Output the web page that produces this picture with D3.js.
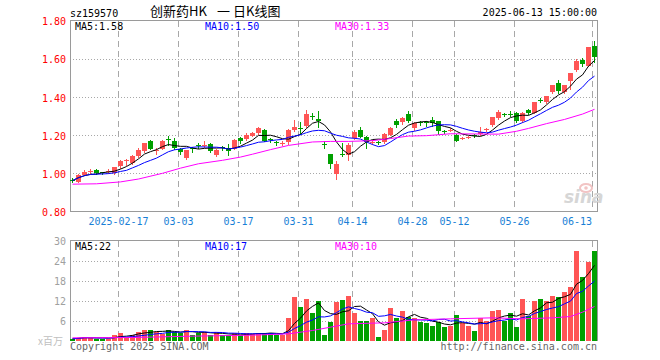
<!DOCTYPE html>
<html>
<head>
<meta charset="utf-8">
<script src="https://cdn.jsdelivr.net/npm/d3@7"></script>
<style>
  body { margin: 0; background: #fff; }
  svg { display: block; font-family: "DejaVu Sans Mono", monospace; }
</style>
</head>
<body>
<div id="chart"></div>
<script>
// trading days shown (2025)
const dates = [
  '02-05','02-06','02-07','02-10','02-11','02-12','02-13','02-14','02-17','02-18',
  '02-19','02-20','02-21','02-24','02-25','02-26','02-27','02-28','03-03','03-04',
  '03-05','03-06','03-07','03-10','03-11','03-12','03-13','03-14','03-17','03-18',
  '03-19','03-20','03-21','03-24','03-25','03-26','03-27','03-28','03-31','04-01',
  '04-02','04-03','04-07','04-08','04-09','04-10','04-11','04-14','04-15','04-16',
  '04-17','04-18','04-21','04-22','04-23','04-24','04-25','04-28','04-29','04-30',
  '05-06','05-07','05-08','05-09','05-12','05-13','05-14','05-15','05-16','05-19',
  '05-20','05-21','05-22','05-23','05-26','05-27','05-28','05-29','05-30','06-03',
  '06-04','06-05','06-06','06-09','06-10','06-11','06-12','06-13'
];

const openPx = [
  0.965,0.957,0.992,1.010,1.018,1.006,1.005,1.001,1.040,1.063,
  1.055,1.088,1.113,1.171,1.113,1.127,1.178,1.168,1.127,1.080,
  1.131,1.148,1.146,1.155,1.095,1.137,1.130,1.128,1.183,1.180,
  1.197,1.210,1.229,1.177,1.162,1.158,1.160,1.224,1.235,1.250,
  1.302,1.282,1.152,1.100,0.998,1.102,1.097,1.185,1.229,1.190,
  1.160,1.163,1.162,1.203,1.272,1.264,1.313,1.238,1.267,1.266,
  1.278,1.272,1.220,1.225,1.203,1.183,1.188,1.202,1.208,1.226,
  1.255,1.290,1.308,1.310,1.317,1.273,1.330,1.317,1.385,1.373,
  1.422,1.471,1.425,1.483,1.540,1.594,1.562,1.665
];
const highPx = [
  0.975,0.995,1.015,1.025,1.022,1.008,1.020,1.035,1.071,1.076,
  1.095,1.130,1.160,1.175,1.130,1.175,1.197,1.185,1.135,1.122,
  1.140,1.160,1.167,1.160,1.125,1.145,1.155,1.180,1.190,1.210,
  1.215,1.245,1.232,1.185,1.170,1.170,1.230,1.280,1.270,1.334,
  1.315,1.325,1.170,1.100,1.067,1.159,1.160,1.225,1.240,1.195,
  1.175,1.170,1.210,1.240,1.285,1.295,1.325,1.268,1.275,1.275,
  1.295,1.275,1.228,1.235,1.205,1.190,1.195,1.205,1.240,1.235,
  1.296,1.330,1.315,1.325,1.320,1.320,1.335,1.375,1.395,1.405,
  1.460,1.490,1.462,1.527,1.600,1.605,1.660,1.694
];
const lowPx = [
  0.952,0.952,0.990,1.000,0.998,0.998,1.000,0.998,1.029,1.045,
  1.050,1.085,1.110,1.128,1.100,1.125,1.150,1.125,1.100,1.075,
  1.110,1.130,1.140,1.110,1.090,1.120,1.095,1.125,1.160,1.175,
  1.195,1.205,1.170,1.165,1.150,1.150,1.155,1.220,1.205,1.245,
  1.285,1.245,1.130,1.028,0.971,1.088,1.070,1.180,1.190,1.130,
  1.155,1.155,1.160,1.200,1.240,1.260,1.270,1.225,1.255,1.250,
  1.250,1.205,1.210,1.220,1.170,1.180,1.183,1.190,1.200,1.220,
  1.250,1.285,1.300,1.300,1.270,1.270,1.310,1.315,1.375,1.370,
  1.420,1.420,1.420,1.440,1.538,1.560,1.560,1.585
];
const closePx = [
  0.962,0.992,1.009,1.014,1.001,1.001,1.010,1.031,1.067,1.068,
  1.092,1.120,1.157,1.130,1.120,1.171,1.175,1.130,1.110,1.120,
  1.128,1.146,1.149,1.118,1.120,1.133,1.115,1.176,1.166,1.200,
  1.212,1.238,1.173,1.174,1.160,1.161,1.225,1.241,1.232,1.313,
  1.300,1.271,1.150,1.050,1.050,1.100,1.150,1.215,1.194,1.162,
  1.163,1.161,1.206,1.238,1.250,1.287,1.278,1.264,1.265,1.264,
  1.260,1.220,1.218,1.228,1.173,1.186,1.191,1.197,1.218,1.230,
  1.296,1.320,1.304,1.308,1.273,1.317,1.313,1.373,1.383,1.404,
  1.460,1.430,1.460,1.527,1.588,1.571,1.659,1.606
];
// volume, millions of shares
const volume = [
  0.5,0.8,1.2,0.8,0.6,0.6,0.5,1.8,2.4,1.2,
  1.8,2.7,3.2,3.3,2.5,2.0,3.3,2.5,2.3,3.3,
  1.8,2.3,2.7,1.5,2.7,1.5,1.5,2.3,1.5,2.3,
  2.0,2.3,2.3,2.3,1.8,1.5,6.8,13.2,10.2,12.6,
  8.4,12.0,1.8,5.5,11.5,12.3,13.5,8.2,6.0,5.8,
  6.7,1.2,3.3,9.7,6.8,8.8,7.0,6.8,5.5,5.2,
  4.5,5.5,4.0,4.3,7.8,5.2,4.3,3.0,6.8,5.8,
  9.0,9.3,5.8,8.2,4.2,12.6,7.5,12.0,12.6,11.8,
  13.5,13.2,14.5,16.2,27.0,19.2,23.5,26.8
];

// 30-day averages (their window reaches before the first day shown)
const ma30Day = [0, 4, 8, 11, 15, 18, 21, 25, 28, 30, 33, 36, 40, 43, 46, 50, 53, 56, 59, 63, 67, 71, 74, 76, 79, 82, 85, 87];
const ma30Price = [0.943, 0.945, 0.955, 0.970, 1.000, 1.027, 1.050, 1.068, 1.085, 1.100, 1.124, 1.146, 1.164, 1.167, 1.167, 1.171, 1.182, 1.195, 1.197, 1.207, 1.206, 1.205, 1.220, 1.235, 1.260, 1.282, 1.310, 1.335];
const vma30Day = [0, 10, 20, 30, 36, 40, 43, 46, 52, 57, 63, 70, 75, 80, 83, 85, 87];
const vma30Vol = [0.8, 0.9, 1.3, 1.6, 2.0, 3.0, 4.0, 5.0, 5.3, 6.2, 6.5, 6.8, 6.5, 6.8, 7.2, 8.5, 10.2];

const priceTicks = [0.8, 1.0, 1.2, 1.4, 1.6, 1.8];
const volTicks = [0, 6, 12, 18, 24, 30];
const dateTicks = ['02-17', '03-03', '03-17', '03-31', '04-14', '04-28', '05-12', '05-26', '06-13'];
const dateTickLabels = ['2025-02-17', '03-03', '03-17', '03-31', '04-14', '04-28', '05-12', '05-26', '06-13'];
const priceMaLabels = ['MA5:1.58', 'MA10:1.50', 'MA30:1.33'];
const volMaLabels = ['MA5:22', 'MA10:17', 'MA30:10'];
const titleParts = ['创新药HK', '一', '日K线图'];

const RED = '#ff5555';
const GREEN = '#00a000';
const MA_COLORS = ['#000000', '#0000ff', '#ff00ff'];
const GRID = '#a8a8a8';
const FRAME = '#9a9a9a';

const plotLeft = 70, plotRight = 597;

const svg = d3.select('#chart')
  .append('svg')
  .attr('width', 660)
  .attr('height', 360);

const x = d3.scaleBand()
  .domain(dates)
  .range([plotLeft, plotLeft + 6 * dates.length]);
const cx = (i) => x(dates[i]) + 2.5;

const y = d3.scaleLinear().domain([0.8, 1.8]).range([211.5, 20.5]);
const yv = d3.scaleLinear().domain([0, 30]).range([340.5, 240.5]);

function movingAvg(arr, n) {
  return arr.map((_, i) => d3.mean(arr.slice(Math.max(0, i - n + 1), i + 1)));
}

const candles = dates.map((d, i) => ({
  i, d,
  o: openPx[i], h: highPx[i], l: lowPx[i], c: closePx[i], v: volume[i],
  up: closePx[i] > openPx[i]
}));

// ---------- grids ----------
function drawGrid(yScale, ticks, top, bottom) {
  const g = svg.append('g').attr('shape-rendering', 'crispEdges');
  g.selectAll('line.h')
    .data(ticks.slice(1, -1))
    .enter()
    .append('line')
    .attr('x1', plotLeft).attr('x2', plotRight)
    .attr('y1', (t) => Math.round(yScale(t)) + 0.5)
    .attr('y2', (t) => Math.round(yScale(t)) + 0.5)
    .attr('stroke', GRID)
    .attr('stroke-dasharray', '1,2');
  g.selectAll('line.v')
    .data(dateTicks)
    .enter()
    .append('line')
    .attr('x1', (d) => x(d) + 0.5).attr('x2', (d) => x(d) + 0.5)
    .attr('y1', top).attr('y2', bottom)
    .attr('stroke', GRID)
    .attr('stroke-dasharray', '6,4');
}
drawGrid(y, priceTicks, 21, 211);
drawGrid(yv, volTicks, 241, 340);

// frames
svg.append('path')
  .attr('d', `M${plotLeft + 0.5},211.5 V20.5 H${plotRight + 0.5} V211.5 H${plotLeft + 0.5}`)
  .attr('fill', 'none').attr('stroke', FRAME).attr('shape-rendering', 'crispEdges');
svg.append('path')
  .attr('d', `M${plotLeft + 0.5},340.5 V240.5 H${plotRight + 0.5} V340.5`)
  .attr('fill', 'none').attr('stroke', FRAME).attr('shape-rendering', 'crispEdges');

// ---------- watermark ----------
const wm = svg.append('g').attr('transform', 'translate(564,203)');
wm.append('ellipse').attr('cx', 22).attr('cy', -15).attr('rx', 6).attr('ry', 4)
  .attr('fill', 'none').attr('stroke', '#f2c4c4').attr('stroke-width', 2);
wm.append('circle').attr('cx', 22).attr('cy', -15).attr('r', 1.8).attr('fill', '#f2c4c4');
wm.append('text').attr('x', 0).attr('y', 0)
  .attr('font-family', 'DejaVu Sans, sans-serif')
  .attr('font-style', 'italic').attr('font-weight', 'bold').attr('font-size', 17)
  .attr('fill', '#d6d6d6').text('sina');

// ---------- candles ----------
const cg = svg.append('g').attr('shape-rendering', 'crispEdges');
cg.selectAll('line.wick')
  .data(candles)
  .enter()
  .append('line')
  .attr('x1', (d) => cx(d.i)).attr('x2', (d) => cx(d.i))
  .attr('y1', (d) => Math.round(y(d.h))).attr('y2', (d) => Math.round(y(d.l)) + 1)
  .attr('stroke', (d) => (d.up ? RED : GREEN));
cg.selectAll('rect.body')
  .data(candles)
  .enter()
  .append('rect')
  .attr('x', (d) => x(d.d))
  .attr('width', 5)
  .attr('y', (d) => Math.round(y(Math.max(d.o, d.c))))
  .attr('height', (d) => Math.max(1, Math.round(Math.abs(y(d.o) - y(d.c)))))
  .attr('fill', (d) => (d.up ? RED : GREEN));

// volume bars
cg.selectAll('rect.vol')
  .data(candles)
  .enter()
  .append('rect')
  .attr('x', (d) => x(d.d))
  .attr('width', 5)
  .attr('y', (d) => Math.round(yv(d.v)))
  .attr('height', (d) => 341 - Math.round(yv(d.v)))
  .attr('fill', (d) => (d.up ? RED : GREEN));

// ---------- moving averages ----------
const lineG = svg.append('g').attr('fill', 'none').attr('stroke-width', 1);
const ma5 = movingAvg(closePx, 5);
const ma10 = movingAvg(closePx, 10);
const vma5 = movingAvg(volume, 5);
const vma10 = movingAvg(volume, 10);

const lineOf = (scale) => d3.line().x((d) => cx(d[0])).y((d) => scale(d[1]));

[[ma5, 0], [ma10, 1]].forEach(([arr, k]) => {
  lineG.append('path')
    .attr('d', lineOf(y)(arr.map((v, i) => [i, v])))
    .attr('stroke', MA_COLORS[k]);
});
lineG.append('path')
  .attr('d', lineOf(y)(ma30Day.map((d, k) => [d, ma30Price[k]])))
  .attr('stroke', MA_COLORS[2]);

[[vma5, 0], [vma10, 1]].forEach(([arr, k]) => {
  lineG.append('path')
    .attr('d', lineOf(yv)(arr.map((v, i) => [i, v])))
    .attr('stroke', MA_COLORS[k]);
});
lineG.append('path')
  .attr('d', lineOf(yv)(vma30Day.map((d, k) => [d, vma30Vol[k]])))
  .attr('stroke', MA_COLORS[2]);

// ---------- axes ----------
const priceAxis = svg.append('g')
  .attr('transform', 'translate(66,0)')
  .call(d3.axisLeft(y).tickValues(priceTicks).tickSize(0).tickPadding(0).tickFormat(d3.format('.2f')));
priceAxis.select('.domain').remove();
priceAxis.selectAll('text')
  .attr('font-family', 'DejaVu Sans Mono, monospace')
  .attr('font-size', 10)
  .attr('fill', '#ff0000')
  .attr('dy', '0.42em');

const volAxis = svg.append('g')
  .attr('transform', 'translate(66,0)')
  .call(d3.axisLeft(yv).tickValues(volTicks.slice(1)).tickSize(0).tickPadding(0));
volAxis.select('.domain').remove();
volAxis.selectAll('text')
  .attr('font-family', 'DejaVu Sans Mono, monospace')
  .attr('font-size', 10)
  .attr('fill', '#a0a0a0')
  .attr('dy', '0.35em');

svg.selectAll('text.date')
  .data(dateTicks)
  .enter()
  .append('text')
  .attr('x', (d, k) => (k === dateTicks.length - 1 ? x(d) : x(d) + 0.5))
  .attr('y', 225)
  .attr('text-anchor', (d, k) => (k === dateTicks.length - 1 ? 'end' : 'middle'))
  .attr('font-size', 10)
  .attr('fill', '#1a7fd6')
  .text((d, k) => dateTickLabels[k]);

// ---------- labels ----------
const labelX = [75, 205, 335];
svg.selectAll('text.pma')
  .data(priceMaLabels)
  .enter()
  .append('text')
  .attr('x', (d, k) => labelX[k]).attr('y', 29.5)
  .attr('font-size', 10)
  .attr('fill', (d, k) => MA_COLORS[k])
  .text((d) => d);
svg.selectAll('text.vma')
  .data(volMaLabels)
  .enter()
  .append('text')
  .attr('x', (d, k) => labelX[k]).attr('y', 250)
  .attr('font-size', 10)
  .attr('fill', (d, k) => MA_COLORS[k])
  .text((d) => d);

svg.append('text').attr('x', 70).attr('y', 16.5).attr('font-size', 10).attr('fill', '#000').text('sz159570');
const titleX = [150, 217, 233];
svg.selectAll('text.title')
  .data(titleParts)
  .enter()
  .append('text')
  .attr('x', (d, k) => titleX[k]).attr('y', 16)
  .attr('font-family', '"Noto Sans CJK SC", sans-serif')
  .attr('font-size', 13).attr('fill', '#000')
  .text((d) => d);
svg.append('text').attr('x', 597).attr('y', 16).attr('text-anchor', 'end')
  .attr('font-size', 10).attr('fill', '#000').text('2025-06-13 15:00:00');

svg.append('text').attr('x', 38).attr('y', 345)
  .attr('font-family', '"Noto Sans CJK SC", sans-serif')
  .attr('font-size', 10).attr('fill', '#c0c0c0').text('x百万');
svg.append('text').attr('x', 70).attr('y', 350).attr('font-size', 10).attr('fill', '#666').text('Copyright 2025 SINA.COM');
svg.append('text').attr('x', 597).attr('y', 350).attr('text-anchor', 'end')
  .attr('font-size', 10).attr('fill', '#666').text('http://finance.sina.com.cn');
</script>
</body>
</html>
